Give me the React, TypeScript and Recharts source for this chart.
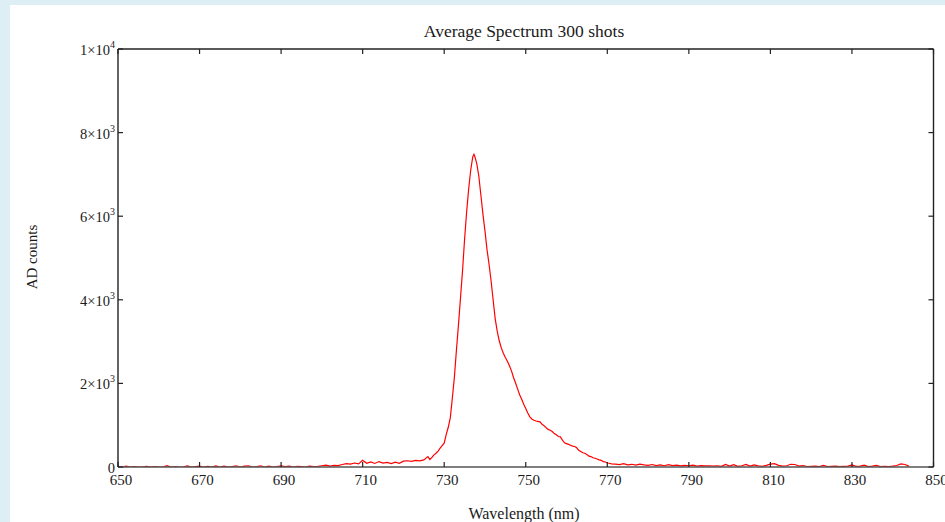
import React from "react";
import { LineChart, Line, XAxis, YAxis } from "recharts";

const TITLE = "Average Spectrum 300 shots";
const X_LABEL = "Wavelength (nm)";
const Y_LABEL = "AD counts";

const xTicks = [650, 670, 690, 710, 730, 750, 770, 790, 810, 830, 850];
const yTicks = [0, 2000, 4000, 6000, 8000, 10000];
const yTickLabels = ["0", "2×10|3", "4×10|3", "6×10|3", "8×10|3", "1×10|4"];

const wavelengths = [
  650, 651, 652, 653, 654, 655, 656, 657, 658, 659,
  660, 661, 662, 663, 664, 665, 666, 667, 668, 669,
  670, 671, 672, 673, 674, 675, 676, 677, 678, 679,
  680, 681, 682, 683, 684, 685, 686, 687, 688, 689,
  690, 691, 692, 693, 694, 695, 696, 697, 698, 699,
  700, 701, 702, 703, 704, 705, 706, 707, 708, 709,
  710, 711, 712, 713, 714, 715, 716, 717, 718, 719,
  720, 721, 722, 723, 724, 725, 726, 726.5, 727, 727.5,
  728, 728.5, 729, 729.5, 730, 730.5, 731, 731.5, 732, 732.5,
  733, 733.5, 734, 734.5, 735, 735.5, 736, 736.5, 737, 737.3,
  737.6, 738, 738.5, 739, 739.5, 740, 740.5, 741, 741.5, 742,
  742.5, 743, 743.5, 744, 744.5, 745, 745.5, 746, 746.5, 747,
  747.5, 748, 748.5, 749, 749.5, 750, 750.5, 751, 751.5, 752,
  752.5, 753, 753.5, 754, 754.5, 755, 755.5, 756, 756.5, 757,
  757.5, 758, 758.5, 759, 759.5, 760, 760.5, 761, 761.5, 762,
  762.5, 763, 763.5, 764, 764.5, 765, 765.5, 766, 766.5, 767,
  767.5, 768, 768.5, 769, 769.5, 770, 770.5, 771, 772, 773,
  774, 775, 776, 777, 778, 779, 780, 781, 782, 783,
  784, 785, 786, 787, 788, 789, 790, 791, 792, 793,
  794, 795, 796, 797, 798, 799, 800, 801, 802, 803,
  804, 805, 806, 807, 808, 809, 810, 811, 812, 813,
  814, 815, 816, 817, 818, 819, 820, 821, 822, 823,
  824, 825, 826, 827, 828, 829, 830, 831, 832, 833,
  834, 835, 836, 837, 838, 839, 840, 841, 842, 843,
  844,
];

const counts = [
  10, 0, 20, 0, 10, 0, 0, 15, 0, 10,
  0, 0, 30, 0, 10, 0, 0, 25, 0, 10,
  20, 0, 15, 0, 25, 0, 20, 0, 10, 30,
  0, 20, 30, 0, 10, 30, 0, 20, 0, 10,
  25, 10, 20, 0, 15, 10, 0, 20, 10, 15,
  30, 45, 20, 40, 35, 60, 80, 70, 95, 75,
  160, 90, 120, 85, 130, 95, 110, 80, 115, 90,
  140, 150, 135, 160, 145, 170, 250, 180, 230, 290,
  330, 380, 450, 510, 570, 780, 950, 1180, 1650, 2150,
  2800, 3400, 4050, 4700, 5450, 6100, 6650, 7100, 7420, 7480,
  7400, 7250, 6950, 6500, 6050, 5650, 5200, 4850, 4450, 4000,
  3550, 3250, 3020, 2850, 2720, 2620, 2530, 2420, 2300, 2140,
  2010, 1870, 1730, 1620, 1500, 1400, 1290, 1200, 1150, 1120,
  1100, 1090, 1080, 1020, 990, 940, 900, 880, 850, 800,
  770, 730, 720, 640, 580, 560, 540, 520, 500, 490,
  460, 400, 370, 340, 330, 300, 260, 250, 220, 210,
  190, 170, 160, 130, 120, 95, 90, 75, 70, 55,
  80, 50, 65, 45, 70, 50, 40, 60, 35, 50,
  30, 55, 35, 45, 25, 40, 30, 45, 20, 35,
  25, 30, 20, 30, 15, 60, 20, 55, 15, 30,
  60, 20, 50, 25, 15, 40, 70, 80, 40, 20,
  30, 65, 60, 20, 35, 10, 15, 20, 10, 40,
  10, 15, 20, 10, 15, 20, 50, 15, 20, 45,
  10, 20, 40, 10, 15, 10, 20, 35, 75, 60,
  20,
];

const data = wavelengths.map((w, i) => ({ w, c: counts[i] }));

const FONT = "'Liberation Serif', 'Times New Roman', serif";
const TEXT = "#1a1a1a";
const FRAME = "#222";
const TICK_LEN = 5;

const LeftTick = (props: any) => {
  const { x, y, payload, index } = props;
  const lbl = yTickLabels[index] ?? String(payload.value);
  const parts = lbl.split("|");
  return (
    <g>
      <line x1={x} y1={y} x2={x + TICK_LEN} y2={y} stroke={FRAME} strokeWidth={1.2} />
      <text x={x - 3} y={y + 6} textAnchor="end" fontFamily={FONT} fontSize={14.5} fill={TEXT}>
        <tspan>{parts[0]}</tspan>
        {parts[1] ? (
          <tspan dy={-7} fontSize={10}>
            {parts[1]}
          </tspan>
        ) : null}
      </text>
    </g>
  );
};

const RightTick = (props: any) => {
  const { x, y } = props;
  return <line x1={x} y1={y} x2={x - TICK_LEN} y2={y} stroke={FRAME} strokeWidth={1.2} />;
};

const BottomTick = (props: any) => {
  const { x, y, payload } = props;
  return (
    <g>
      <line x1={x} y1={y} x2={x} y2={y - TICK_LEN} stroke={FRAME} strokeWidth={1.2} />
      <text x={x + 3} y={y + 18} textAnchor="middle" fontFamily={FONT} fontSize={15} fill={TEXT}>
        {payload.value}
      </text>
    </g>
  );
};

const TopTick = (props: any) => {
  const { x, y } = props;
  return <line x1={x} y1={y} x2={x} y2={y + TICK_LEN} stroke={FRAME} strokeWidth={1.2} />;
};

export default function App() {
  return (
    <div style={{ position: "absolute", left: 0, top: 0, width: 945, height: 522, background: "#ddeef4", overflow: "hidden" }}>
      <div style={{ position: "absolute", left: 10, top: 5, width: 935, height: 517, background: "#ffffff" }} />
      <div style={{ position: "absolute", left: 0, top: 0 }}>
        <LineChart width={945} height={522} data={data} margin={{ top: 29, right: 1.5, left: 0, bottom: 0 }}>
          <XAxis
            xAxisId="b"
            dataKey="w"
            type="number"
            domain={[650, 850]}
            ticks={xTicks}
            allowDataOverflow
            height={55}
            tickSize={0}
            tickMargin={0}
            tickLine={false}
            axisLine={{ stroke: "#555", strokeWidth: 1.4 }}
            tick={<BottomTick />}
            interval={0}
          />
          <XAxis
            xAxisId="t"
            orientation="top"
            dataKey="w"
            type="number"
            domain={[650, 850]}
            ticks={xTicks}
            allowDataOverflow
            height={20}
            tickSize={0}
            tickMargin={0}
            tickLine={false}
            axisLine={{ stroke: FRAME, strokeWidth: 1.4 }}
            tick={<TopTick />}
            interval={0}
          />
          <YAxis
            yAxisId="l"
            type="number"
            domain={[0, 10000]}
            ticks={yTicks}
            allowDataOverflow
            width={118}
            tickSize={0}
            tickMargin={0}
            tickLine={false}
            axisLine={{ stroke: FRAME, strokeWidth: 1.4 }}
            tick={<LeftTick />}
            interval={0}
          />
          <YAxis
            yAxisId="r"
            orientation="right"
            type="number"
            domain={[0, 10000]}
            ticks={yTicks}
            allowDataOverflow
            width={10}
            tickSize={0}
            tickMargin={0}
            tickLine={false}
            axisLine={{ stroke: FRAME, strokeWidth: 1.4 }}
            tick={<RightTick />}
            interval={0}
          />
          <Line
            xAxisId="b"
            yAxisId="l"
            type="linear"
            dataKey="c"
            stroke="#ff0000"
            strokeWidth={1.2}
            dot={false}
            isAnimationActive={false}
          />
        </LineChart>
      </div>
      <svg width={945} height={522} style={{ position: "absolute", left: 0, top: 0, pointerEvents: "none" }}>
        <text x={524} y={37} textAnchor="middle" fontFamily={FONT} fontSize={17.5} fill={TEXT}>
          {TITLE}
        </text>
        <text x={524} y={519} textAnchor="middle" fontFamily={FONT} fontSize={16} fill={TEXT}>
          {X_LABEL}
        </text>
        <text
          x={37}
          y={257}
          textAnchor="middle"
          fontFamily={FONT}
          fontSize={15}
          fill={TEXT}
          transform="rotate(-90 37 257)"
        >
          {Y_LABEL}
        </text>
      </svg>
    </div>
  );
}
